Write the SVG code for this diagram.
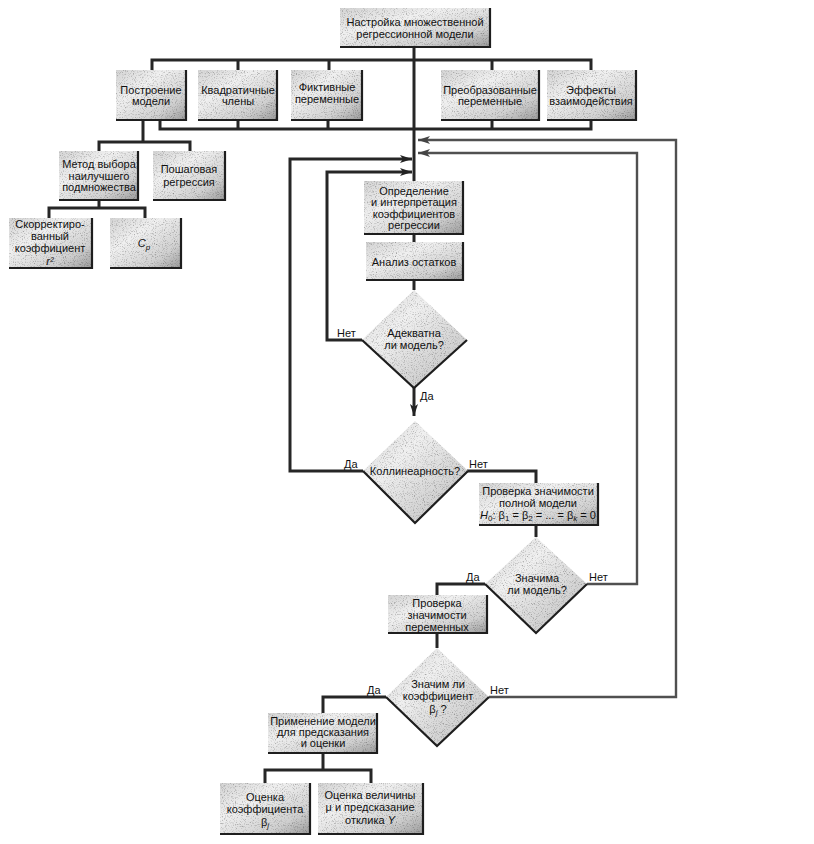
<svg xmlns="http://www.w3.org/2000/svg" width="814" height="844" viewBox="0 0 814 844">
<defs>
<linearGradient id="g" x1="0" y1="0" x2="1" y2="1">
<stop offset="0" stop-color="#d4d4d4"/>
<stop offset="0.35" stop-color="#f0f0f0"/>
<stop offset="0.75" stop-color="#d0d0d0"/>
<stop offset="1" stop-color="#9a9a9a"/>
</linearGradient>
<filter id="grain" x="0" y="0" width="1" height="1">
<feTurbulence type="fractalNoise" baseFrequency="0.9" numOctaves="2" seed="3" result="n"/>
<feColorMatrix in="n" type="matrix" values="0 0 0 0 0  0 0 0 0 0  0 0 0 0 0  0 0 0 -1.6 0.78" result="a"/>
<feComposite in="a" in2="SourceGraphic" operator="in" result="m"/>
<feMerge><feMergeNode in="SourceGraphic"/><feMergeNode in="m"/></feMerge>
</filter>
<marker id="ah" viewBox="0 0 12 8" refX="12" refY="4" markerWidth="12" markerHeight="8" markerUnits="userSpaceOnUse" orient="auto">
<path d="M0,0 L12,4 L0,8 L3,4 Z" fill="#222"/>
</marker>
<marker id="ahg" viewBox="0 0 12 8" refX="12" refY="4" markerWidth="12" markerHeight="8" markerUnits="userSpaceOnUse" orient="auto">
<path d="M0,0 L12,4 L0,8 L3,4 Z" fill="#444"/>
</marker>
</defs>
<style>
.box{fill:url(#g);filter:url(#grain)}
.sh{fill:none;stroke:#1e1e1e;stroke-width:2.2}
.t{font-family:"Liberation Sans",Arial,sans-serif;font-size:11px;fill:#111;text-anchor:middle}
.l{font-family:"Liberation Sans",Arial,sans-serif;font-size:11px;fill:#111}
.c{fill:none;stroke:#262626;stroke-width:3}
.cg{fill:none;stroke:#505050;stroke-width:2.4}
.it{font-style:italic}
</style>
<rect width="814" height="844" fill="#ffffff"/>

<g id="connectors">
<path class="c" d="M414,47 V181"/>
<path class="c" d="M152,70 V60 H591 V70 M238,60 V70 M329,60 V70 M492,60 V70"/>
<path class="c" d="M160,120 V129 H591 V120 M238,129 V120 M328,129 V120 M492,129 V120"/>
<path class="c" d="M143,120 V142 M99,151 V142 H190 V151"/>
<path class="c" d="M99,200 V208 M49,218 V208 H145 V218"/>
<path class="c" d="M414,234 V242 M414,280 V290"/>
<path class="c" d="M414,387 V416" marker-end="url(#ah)"/>
<path class="c" d="M362,340 H327 V172 H412" marker-end="url(#ah)"/>
<path class="c" d="M363,471 H290 V159 H412" marker-end="url(#ah)"/>
<path class="cg" d="M587,584 H637 V153 H418" marker-end="url(#ahg)"/>
<path class="cg" d="M489,697 H676 V140 H418" marker-end="url(#ahg)"/>
<path class="c" d="M467,471 H536 V483"/>
<path class="c" d="M536,525 V537"/>
<path class="c" d="M485,584 H437 V595"/>
<path class="c" d="M437,633 V648"/>
<path class="c" d="M386,697 H323 V713"/>
<path class="c" d="M323,753 V770 M265,783 V770 H371 V783"/>
</g>

<g id="n_top"><rect class="box" x="340" y="8" width="150" height="39"/><path class="sh" d="M340,47 H490 V8"/>
<text class="t" x="415" y="26">Настройка множественной</text><text class="t" x="415" y="38">регрессионной модели</text></g>

<g id="n_build"><rect class="box" x="116" y="70" width="70" height="50"/><path class="sh" d="M116,120 H186 V70"/>
<text class="t" x="151" y="94">Построение</text><text class="t" x="151" y="105">модели</text></g>
<g id="n_quad"><rect class="box" x="198" y="70" width="79" height="50"/><path class="sh" d="M198,120 H277 V70"/>
<text class="t" x="238" y="94">Квадратичные</text><text class="t" x="238" y="105">члены</text></g>
<g id="n_dummy"><rect class="box" x="291" y="70" width="71" height="50"/><path class="sh" d="M291,120 H362 V70"/>
<text class="t" x="327" y="91">Фиктивные</text><text class="t" x="327" y="103">переменные</text></g>
<g id="n_trans"><rect class="box" x="441" y="70" width="98" height="50"/><path class="sh" d="M441,120 H539 V70"/>
<text class="t" x="490" y="94">Преобразованные</text><text class="t" x="490" y="105">переменные</text></g>
<g id="n_inter"><rect class="box" x="547" y="70" width="89" height="50"/><path class="sh" d="M547,120 H636 V70"/>
<text class="t" x="591" y="94">Эффекты</text><text class="t" x="591" y="105">взаимодействия</text></g>

<g id="n_best"><rect class="box" x="59" y="151" width="79" height="49"/><path class="sh" d="M59,200 H138 V151"/>
<text class="t" x="99" y="168">Метод выбора</text><text class="t" x="99" y="180">наилучшего</text><text class="t" x="99" y="191">подмножества</text></g>
<g id="n_step"><rect class="box" x="153" y="151" width="72" height="49"/><path class="sh" d="M153,200 H225 V151"/>
<text class="t" x="189" y="173">Пошаговая</text><text class="t" x="189" y="186">регрессия</text></g>

<g id="n_r2"><rect class="box" x="9" y="218" width="83" height="50"/><path class="sh" d="M9,268 H92 V218"/>
<text class="t" x="50" y="228">Скорректиро-</text><text class="t" x="50" y="240">ванный</text><text class="t" x="50" y="252">коэффициент</text><text class="t" x="50" y="265"><tspan class="it">r²</tspan></text></g>
<g id="n_cp"><rect class="box" x="110" y="218" width="71" height="50"/><path class="sh" d="M110,268 H181 V218"/>
<text class="t" x="144" y="247"><tspan class="it">C</tspan><tspan class="it" dy="3" font-size="8">p</tspan></text></g>

<g id="n_coef"><rect class="box" x="364" y="181" width="99" height="53"/><path class="sh" d="M364,234 H463 V181"/>
<text class="t" x="414" y="195">Определение</text><text class="t" x="414" y="206">и интерпретация</text><text class="t" x="414" y="218">коэффициентов</text><text class="t" x="414" y="229">регрессии</text></g>

<g id="n_resid"><rect class="box" x="366" y="242" width="97" height="38"/><path class="sh" d="M366,280 H463 V242"/>
<text class="t" x="414" y="266">Анализ остатков</text></g>

<g id="n_adeq"><path class="box" d="M414,290 L467,340 L414,388 L362,340 Z"/><path class="sh" d="M467,340 L414,388 L362,340" stroke-width="1.2"/>
<text class="t" x="414" y="337">Адекватна</text><text class="t" x="414" y="349">ли модель?</text>
<text class="l" x="337" y="337">Нет</text><text class="l" x="420" y="400">Да</text></g>

<g id="n_coll"><path class="box" d="M415,421 L468,471 L415,523 L363,471 Z"/><path class="sh" d="M468,471 L415,523 L363,471" stroke-width="1.2"/>
<text class="t" x="415" y="475">Коллинеарность?</text>
<text class="l" x="344" y="468">Да</text><text class="l" x="469" y="468">Нет</text></g>

<g id="n_full"><rect class="box" x="479" y="483" width="119" height="42"/><path class="sh" d="M479,525 H598 V483"/>
<text class="t" x="538" y="495">Проверка значимости</text><text class="t" x="538" y="507">полной модели</text>
<text class="t" x="538" y="519"><tspan class="it">H</tspan><tspan dy="2" font-size="8">0</tspan><tspan dy="-2">: β</tspan><tspan dy="2" font-size="8">1</tspan><tspan dy="-2"> = β</tspan><tspan dy="2" font-size="8">2</tspan><tspan dy="-2"> = ... = β</tspan><tspan dy="2" font-size="8" class="it">k</tspan><tspan dy="-2"> = 0</tspan></text></g>

<g id="n_sig"><path class="box" d="M536,537 L587,584 L536,633 L485,584 Z"/><path class="sh" d="M587,584 L536,633 L485,584" stroke-width="1.2"/>
<text class="t" x="537" y="582">Значима</text><text class="t" x="537" y="594">ли модель?</text>
<text class="l" x="466" y="581">Да</text><text class="l" x="589" y="581">Нет</text></g>

<g id="n_vars"><rect class="box" x="388" y="595" width="99" height="38"/><path class="sh" d="M388,633 H487 V595"/>
<text class="t" x="437" y="607">Проверка</text><text class="t" x="437" y="619">значимости</text><text class="t" x="437" y="631">переменных</text></g>

<g id="n_bj"><path class="box" d="M437,648 L489,697 L437,746 L386,697 Z"/><path class="sh" d="M489,697 L437,746 L386,697" stroke-width="1.2"/>
<text class="t" x="438" y="688">Значим ли</text><text class="t" x="438" y="700">коэффициент</text>
<text class="t" x="438" y="713">β<tspan dy="2" font-size="8" class="it">j</tspan><tspan dy="-2"> ?</tspan></text>
<text class="l" x="367" y="694">Да</text><text class="l" x="490" y="694">Нет</text></g>

<g id="n_apply"><rect class="box" x="268" y="713" width="109" height="40"/><path class="sh" d="M268,753 H377 V713"/>
<text class="t" x="323" y="725">Применение модели</text><text class="t" x="323" y="736">для предсказания</text><text class="t" x="323" y="747">и оценки</text></g>

<g id="n_estb"><rect class="box" x="220" y="783" width="90" height="51"/><path class="sh" d="M220,834 H310 V783"/>
<text class="t" x="265" y="801">Оценка</text><text class="t" x="265" y="813">коэффициента</text>
<text class="t" x="265" y="826">β<tspan dy="2" font-size="8" class="it">j</tspan></text></g>
<g id="n_estmu"><rect class="box" x="318" y="783" width="105" height="51"/><path class="sh" d="M318,834 H423 V783"/>
<text class="t" x="370" y="799">Оценка величины</text><text class="t" x="370" y="811">μ и предсказание</text>
<text class="t" x="370" y="824">отклика <tspan class="it">Y</tspan></text></g>
</svg>
